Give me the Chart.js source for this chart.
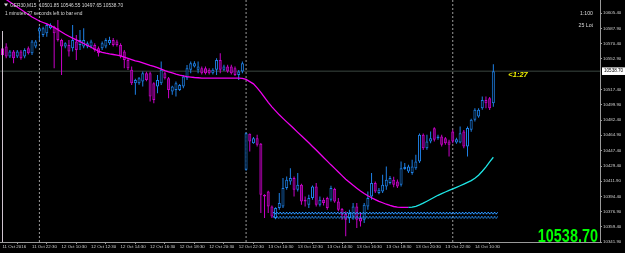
<!DOCTYPE html>
<html><head><meta charset="utf-8">
<script src="https://cdn.jsdelivr.net/npm/chart.js@4.4.1/dist/chart.umd.min.js"></script>
<style>html,body{margin:0;padding:0;background:#000;overflow:hidden}#wrap{width:625px;height:253px;position:relative}</style>
</head><body><div id="wrap"><canvas id="c" width="625" height="253"></canvas></div>
<script>
// ---- data (GER30, M15) ----
const opens = [10565.0,10567.0,10555.5,10561.3,10555.5,10561.3,10555.5,10565.1,10559.3,10567.0,
10584.3,10580.4,10582.4,10588.1,10590.0,10588.1,10574.7,10567.0,10568.9,10565.1,
10572.8,10568.9,10567.0,10567.0,10567.0,10568.9,10565.1,10565.1,10567.0,10570.8,
10574.7,10572.8,10568.9,10561.3,10551.7,10540.2,10524.8,10524.8,10526.7,10536.3,
10536.3,10524.8,10521.0,10524.8,10536.3,10530.6,10515.2,10517.1,10517.1,10521.0,
10530.6,10540.2,10544.0,10540.2,10542.1,10542.1,10540.2,10536.3,10540.2,10551.7,
10540.2,10544.0,10544.0,10542.1,10534.4,10538.2,10425.1,10466.5,10455.8,10461.5,
10455.0,10396.3,10400.2,10382.9,10369.5,10381.0,10382.9,10404.0,10411.7,10415.5,
10402.1,10407.9,10390.6,10384.8,10392.5,10405.9,10384.8,10390.6,10392.5,10390.6,
10402.9,10388.7,10379.9,10374.5,10369.5,10371.4,10382.9,10369.5,10367.6,10382.9,
10394.4,10409.8,10398.3,10400.2,10405.9,10409.8,10413.6,10411.7,10407.9,10425.9,
10423.2,10421.3,10427.0,10434.7,10465.4,10450.0,10457.7,10473.0,10461.5,10463.5,
10461.5,10457.7,10469.2,10456.6,10456.6,10469.2,10452.0,10471.1,10482.7,10486.5,
10496.1,10505.6,10507.6,10501.85];
const highs = [10572.0,10570.8,10563.0,10563.0,10563.0,10563.0,10565.1,10567.0,10574.7,10574.7,
10590.0,10590.0,10593.9,10594.0,10591.0,10597.7,10576.0,10572.0,10574.7,10591.9,
10580.4,10586.2,10588.1,10573.0,10575.0,10571.0,10567.0,10573.0,10576.6,10578.5,
10577.0,10575.0,10571.0,10563.0,10553.0,10544.0,10530.0,10532.0,10538.2,10538.0,
10538.0,10526.0,10534.4,10549.8,10538.0,10532.0,10522.0,10526.7,10524.0,10534.4,
10545.9,10549.8,10550.0,10549.8,10544.0,10544.0,10542.0,10542.0,10553.6,10559.3,
10546.0,10546.0,10546.0,10544.0,10540.0,10549.8,10468.0,10467.0,10463.0,10465.4,
10456.0,10397.0,10401.0,10384.0,10382.0,10398.3,10415.5,10417.4,10427.0,10417.4,
10421.3,10409.0,10394.4,10396.3,10407.0,10409.8,10394.4,10393.0,10394.0,10406.7,
10404.5,10392.5,10381.0,10377.2,10379.1,10386.8,10386.8,10375.2,10386.8,10400.2,
10421.3,10411.7,10404.0,10419.4,10429.0,10418.0,10417.0,10414.0,10434.7,10432.8,
10431.0,10436.6,10442.4,10467.0,10467.0,10465.4,10469.2,10474.0,10465.4,10465.4,
10463.0,10459.6,10471.1,10462.0,10475.0,10471.0,10475.0,10484.0,10496.1,10496.0,
10509.5,10509.5,10509.0,10546.55];
const lows = [10555.0,10553.6,10554.0,10547.8,10554.0,10552.0,10553.6,10558.0,10557.4,10565.1,
10574.7,10578.0,10578.5,10587.0,10542.1,10573.0,10534.4,10565.0,10555.5,10561.3,
10551.7,10563.2,10565.1,10565.0,10565.0,10561.0,10555.5,10563.0,10565.1,10568.9,
10567.0,10567.0,10553.6,10542.1,10540.0,10522.9,10511.4,10523.0,10521.0,10527.0,
10503.7,10501.8,10513.3,10522.9,10529.0,10507.6,10511.4,10509.5,10516.0,10519.1,
10528.6,10536.3,10543.0,10536.3,10535.0,10535.0,10535.0,10535.0,10534.4,10536.3,
10539.0,10537.0,10535.0,10533.0,10528.6,10536.3,10424.0,10446.2,10455.0,10452.0,
10375.2,10369.5,10375.2,10369.5,10368.0,10379.1,10381.0,10402.1,10407.9,10394.4,
10400.2,10384.8,10382.9,10381.0,10390.6,10382.9,10382.9,10384.0,10379.0,10388.7,
10387.0,10377.2,10367.6,10348.4,10363.7,10367.6,10358.0,10359.9,10363.7,10379.1,
10390.6,10398.3,10397.0,10398.3,10402.1,10408.0,10405.0,10404.0,10405.9,10425.1,
10421.3,10419.4,10425.1,10433.0,10448.0,10448.1,10455.8,10457.7,10459.6,10452.0,
10454.0,10440.5,10455.8,10455.0,10455.8,10450.0,10440.5,10469.0,10480.7,10485.0,
10494.2,10496.1,10494.0,10497.65];
const closes = [10557.0,10555.5,10561.3,10553.6,10561.3,10553.6,10563.2,10559.3,10572.8,10572.8,
10588.1,10588.1,10591.9,10591.9,10582.4,10574.7,10567.0,10570.8,10561.3,10574.7,
10563.2,10574.7,10574.7,10570.8,10572.8,10563.2,10559.3,10570.8,10574.7,10574.7,
10568.9,10568.9,10555.5,10551.7,10542.1,10524.8,10528.6,10530.6,10536.3,10528.6,
10509.5,10505.6,10528.6,10540.2,10530.6,10517.1,10521.0,10524.8,10522.9,10532.5,
10542.1,10547.8,10547.8,10544.0,10536.3,10536.3,10536.3,10540.2,10551.7,10540.2,
10544.0,10538.3,10536.3,10534.4,10538.2,10547.8,10467.3,10457.7,10461.5,10453.9,
10396.3,10394.4,10382.9,10371.4,10381.0,10386.8,10404.0,10413.6,10415.5,10402.1,
10407.9,10388.7,10388.7,10392.5,10405.9,10384.8,10390.6,10386.8,10381.0,10404.0,
10388.7,10379.1,10373.3,10367.6,10375.2,10382.9,10367.6,10365.6,10384.8,10392.5,
10409.8,10400.2,10402.1,10407.9,10413.6,10415.5,10407.9,10405.9,10427.0,10428.2,
10429.0,10429.0,10434.7,10465.4,10450.0,10457.7,10461.5,10459.6,10463.5,10453.9,
10455.8,10453.9,10457.7,10460.4,10467.3,10452.0,10473.1,10482.7,10494.2,10494.2,
10505.6,10501.8,10496.1,10538.70];
const maValues = [10624.2,10621.3,10618.4,10615.5,10612.6,10609.8,10606.9,10604.0,10601.1,10598.8,
10596.5,10594.8,10593.1,10591.1,10589.1,10586.5,10583.9,10581.2,10578.9,10576.7,
10574.7,10572.7,10570.6,10568.5,10566.3,10564.0,10561.8,10560.3,10559.4,10558.6,
10557.9,10557.2,10556.3,10554.9,10553.5,10552.1,10550.7,10549.6,10548.2,10546.7,
10545.3,10544.2,10542.7,10541.0,10539.3,10537.9,10536.7,10535.3,10534.2,10533.2,
10532.4,10531.9,10531.4,10531.1,10530.8,10530.6,10530.6,10530.6,10530.6,10530.6,
10530.6,10530.6,10530.6,10530.6,10530.6,10530.4,10529.2,10526.7,10524.1,10519.4,
10514.3,10508.5,10502.8,10497.6,10493.0,10488.4,10484.3,10480.3,10476.3,10472.3,
10468.2,10464.2,10460.2,10456.2,10452.0,10447.9,10443.5,10439.2,10435.1,10430.8,
10426.7,10422.6,10418.4,10414.3,10410.7,10407.2,10403.9,10400.7,10397.7,10395.2,
10392.9,10390.8,10388.8,10387.1,10385.4,10384.0,10382.8,10382.0,10381.7,10381.7,
10381.7,10382.0,10383.0,10384.6,10386.6,10388.8,10391.1,10393.4,10395.7,10397.7,
10399.5,10401.4,10403.2,10404.9,10406.7,10408.6,10410.6,10412.6,10415.3,10418.8,
10423.4,10428.5,10434.3,10439.5];
const xTickBars = [0,8,16,24,32,40,48,56,64,72,80,88,96,104,112,120,128];
const xTickLabels = ["11 Oct 2016","11 Oct 22:30","12 Oct 10:30","12 Oct 12:30","12 Oct 14:30","12 Oct 16:30",
"12 Oct 18:30","12 Oct 20:30","12 Oct 22:30","13 Oct 10:30","13 Oct 12:30","13 Oct 14:30","13 Oct 16:30",
"13 Oct 18:30","13 Oct 20:30","13 Oct 22:30","14 Oct 10:30"];
const yTickValues = [10605.40,10587.90,10570.40,10552.90,10517.40,10499.90,10482.40,10464.90,10447.40,
10429.40,10411.90,10394.40,10376.90,10359.40,10341.90];
const separatorBars = [10, 66, 122];
const zoneLevels = [10375.8, 10370.8];
const zoneBars = [73.3, 134.2];
const bidPrice = 10538.70;
const headerText = "GER30,M15  10501.85 10546.55 10497.65 10538.70";
const timerText = "1 minutes 27 seconds left to bar end";
const leverageText = "1:100";
const lotText = "25 Lot";
const countdownText = "<1:27";

// ---- view ----
const X_MIN = -0.678, X_MAX = 161.9;
const Y_MIN = 10341.9, Y_MAX = 10620.7;
const UP = '#1E80E6', DOWN = '#C800C8';
const UP_FILL = '#000000', DOWN_FILL = '#5a005a';
const PX = (Y_MAX - Y_MIN) / 242;   // price per pixel, used only for the zigzag stroke offset

const isUp = opens.map((o,i) => closes[i] >= o);
const n = opens.length;

const ds = [];
ds.push({type:'line', order:0, data: maValues.map((v,i)=>({x:i,y:v})), borderColor:'#FF00FF', borderWidth:1.3,
  pointRadius:0, tension:0, segment:{borderColor: c => c.p1.parsed.y > c.p0.parsed.y ? '#1EE6E6' : '#F000F0'}});
zoneLevels.forEach(l => {
  ds.push({type:'line', order:0.5, data: zoneBars.map(b=>({x:b,y:l})), borderColor:'#2A95FF',
    borderWidth:1.2, borderDash:[1.6,1.6], borderDashOffset:0, pointRadius:0});
  ds.push({type:'line', order:0.5, data: zoneBars.map(b=>({x:b,y:l - 1.1*PX})), borderColor:'#2A95FF',
    borderWidth:1.2, borderDash:[1.6,1.6], borderDashOffset:1.6, pointRadius:0});
});
ds.push({type:'bar', order:1, grouped:false, barThickness:3, borderWidth:1, borderSkipped:false, inflateAmount:0,
  data: opens.map((o,i)=>({x:i,y:[o,closes[i]]})),
  backgroundColor: isUp.map(u=>u?UP_FILL:DOWN_FILL), borderColor: isUp.map(u=>u?UP:DOWN)});
ds.push({type:'bar', order:2, grouped:false, barThickness:1, borderWidth:0, inflateAmount:0,
  data: lows.map((l,i)=>({x:i,y:[l,highs[i]]})), backgroundColor: isUp.map(u=>u?UP:DOWN)});
separatorBars.forEach(b => ds.push({type:'line', order:3, data:[{x:b,y:Y_MAX},{x:b,y:Y_MIN}], borderColor:'#9a9a9a',
  borderWidth:1, borderDash:[2,2], pointRadius:0}));
ds.push({type:'line', order:3, data:[{x:X_MIN,y:bidPrice},{x:X_MAX,y:bidPrice}], borderColor:'#3a4640', borderWidth:1, pointRadius:0});

const overlay = {
  id:'overlay',
  afterDraw(chart){
    const ctx = chart.ctx, xs = chart.scales.x, ys = chart.scales.y;
    ctx.save();
    // left frame line
    ctx.strokeStyle = '#cfc4cf'; ctx.lineWidth = 1;
    ctx.beginPath(); ctx.moveTo(2.5, 31); ctx.lineTo(2.5, chart.chartArea.bottom); ctx.stroke();
    ctx.textBaseline = 'middle';
    ctx.fillStyle = '#d8d8d8';
    ctx.font = '4.8px "Liberation Sans"';
    ctx.textAlign = 'left';
    ctx.beginPath(); ctx.moveTo(4,3.5); ctx.lineTo(8,3.5); ctx.lineTo(6,6.5); ctx.closePath(); ctx.fill();
    ctx.fillText(headerText, 10, 5.5);
    ctx.fillText(timerText, 5, 13.5);
    ctx.font = '5.2px "Liberation Sans"';
    ctx.textAlign = 'right';
    ctx.fillText(leverageText, 593, 14);
    ctx.fillText(lotText, 593, 26);
    const py = ys.getPixelForValue(bidPrice);
    ctx.fillStyle = '#ffffff';
    ctx.fillRect(602, py-3.8, 23, 7.6);
    ctx.fillStyle = '#000000';
    ctx.textAlign = 'left';
    ctx.font = '4.6px "Liberation Sans"';
    ctx.fillText(bidPrice.toFixed(2), 604, py);
    ctx.fillStyle = '#F0F000';
    ctx.font = 'italic bold 7.5px "Liberation Sans"';
    ctx.fillText(countdownText, xs.getPixelForValue(n-1) + 15, py + 3.5);
    ctx.fillStyle = '#00FF00';
    ctx.font = 'bold 19px "Liberation Sans"';
    ctx.textAlign = 'right';
    ctx.textBaseline = 'alphabetic';
    ctx.save();
    ctx.translate(598, 241.5);
    ctx.scale(0.76, 1);
    ctx.fillText(bidPrice.toFixed(2), 0, 0);
    ctx.restore();
    ctx.restore();
  }
};
const bgPlugin = {id:'bg', beforeDraw(chart){const c=chart.ctx; c.save(); c.fillStyle='#000'; c.fillRect(0,0,chart.width,chart.height); c.restore();}};

new Chart(document.getElementById('c'), {
  data:{datasets:ds},
  plugins:[bgPlugin, overlay],
  options:{
    responsive:false, animation:false, devicePixelRatio:1,
    layout:{padding:0},
    plugins:{legend:{display:false}, tooltip:{enabled:false}},
    scales:{
      x:{type:'linear', position:'bottom', min:X_MIN, max:X_MAX, offset:false,
        afterBuildTicks: s => { s.ticks = xTickBars.map(v=>({value:v})); },
        afterFit: s => { s.height = 11; s.paddingLeft = 0; s.paddingRight = 0; },
        grid:{drawOnChartArea:false, drawTicks:true, tickLength:2, color:'#9a9a9a'},
        border:{display:true, color:'#9a9a9a'},
        ticks:{autoSkip:false, maxRotation:0, minRotation:0, align:'start', padding:0, color:'#d0d0d0',
          font:{family:'Liberation Sans', size:4.4},
          callback: v => { const k = xTickBars.indexOf(v); return k>=0 ? xTickLabels[k] : ''; }}},
      y:{type:'linear', position:'right', min:Y_MIN, max:Y_MAX,
        afterBuildTicks: s => { s.ticks = yTickValues.map(v=>({value:v})); },
        afterFit: s => { s.width = 25; s.paddingTop = 0; s.paddingBottom = 0; },
        grid:{drawOnChartArea:false, drawTicks:true, tickLength:2, color:'#9a9a9a'},
        border:{display:true, color:'#9a9a9a'},
        ticks:{autoSkip:false, padding:1, color:'#d0d0d0', font:{family:'Liberation Sans', size:4.4},
          callback: v => v.toFixed(2)}}
    }
  }
});
</script></body></html>
